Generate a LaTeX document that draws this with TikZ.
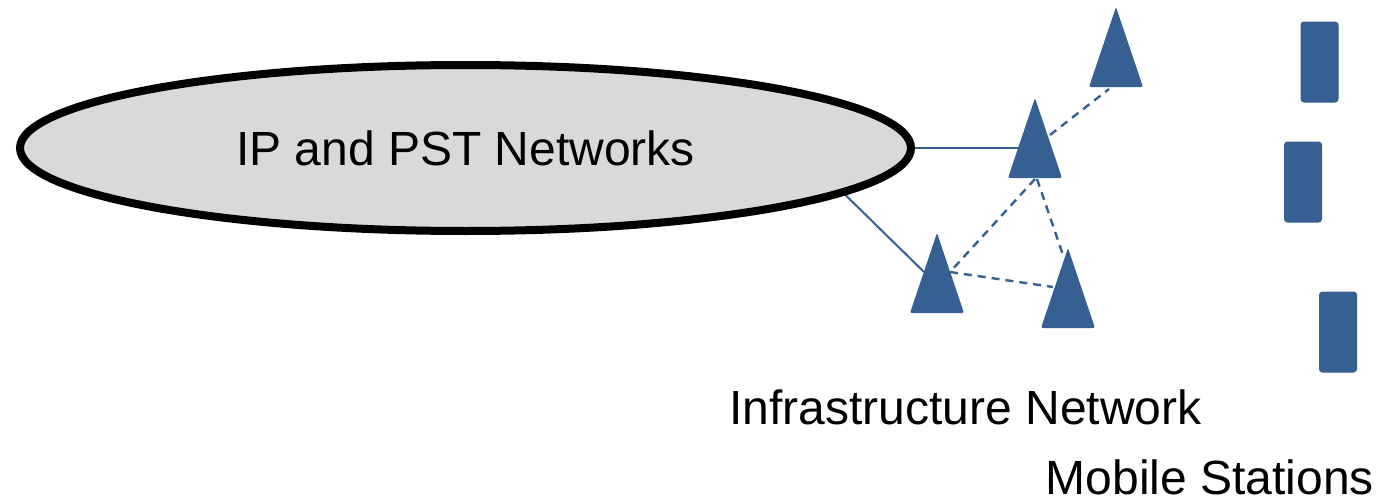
\documentclass[tikz,border=0pt]{standalone}
\usepackage{fontspec}
\setmainfont{Liberation Sans}
\usetikzlibrary{shapes.geometric,calc,backgrounds}
\definecolor{netblue}{RGB}{54,96,146}
\definecolor{cloudgray}{RGB}{217,217,217}
\tikzset{
  cloud/.style={ellipse, draw=black, line width=4pt, fill=cloudgray,
    minimum width=445.5pt, minimum height=83pt, inner sep=0pt,
    font=\fontsize{24}{28}\selectfont},
  caption/.style={font=\fontsize{24}{28}\selectfont, inner sep=0pt, anchor=base,
    text depth=0pt},
  wired/.style={draw=netblue, line width=1pt},
  radio/.style={draw=netblue, line width=1.2pt, dash pattern=on 4pt off 3pt},
  station/.style={fill=netblue, draw=netblue, line width=0.5pt, rounded corners=1.5pt,
    minimum width=18.5pt, minimum height=40pt, inner sep=0pt, rectangle},
}
% base station: filled triangle centred on the named coordinate
\newcommand{\tower}[1]{%
  \fill[netblue, rounded corners=1pt] ($(#1)+(0,-40)$) -- ($(#1)+(27,40)$) -- ($(#1)+(-27,40)$) -- cycle;}
\begin{document}
\begin{tikzpicture}[x=0.5pt, y=-0.5pt]
\useasboundingbox (0,0) rectangle (1394,503);

% core network
\node[cloud] (core) at (465.5,148) {IP and PST Networks};

% access points (centres)
\coordinate (t1) at (1116,47);
\coordinate (t2) at (1035,138);
\coordinate (t3) at (937,273);
\coordinate (t4) at (1068,288);

% links sit behind the cloud and the towers
\begin{scope}[on background layer]
  % wired links
  \draw[wired] (core.east) -- ($(t2)+(-16,10)$);
  \draw[wired] (core.-7.6) -- ($(t3)+(-13,-1)$);
  % radio links between access points
  \draw[radio] ($(t2)+(15,-3)$) -- ($(t1)+(-7,42)$);
  \draw[radio] ($(t2)+(0,41)$) -- ($(t3)+(13,-1)$);
  \draw[radio] ($(t2)+(2,41)$) -- ($(t4)+(-5,-33)$);
  \draw[radio] ($(t3)+(13,-1)$) -- ($(t4)+(-15,-1)$);
\end{scope}

\tower{t1}
\tower{t2}
\tower{t3}
\tower{t4}

% mobile stations
\node[station] (m1) at (1319.5,62) {};
\node[station] (m2) at (1303,182) {};
\node[station] (m3) at (1338,332) {};

% captions
\node[caption] (infra) at (965.5,424) {Infrastructure Network};
\node[caption] (mobile) at (1210,494) {Mobile Stations};
\end{tikzpicture}
\end{document}
